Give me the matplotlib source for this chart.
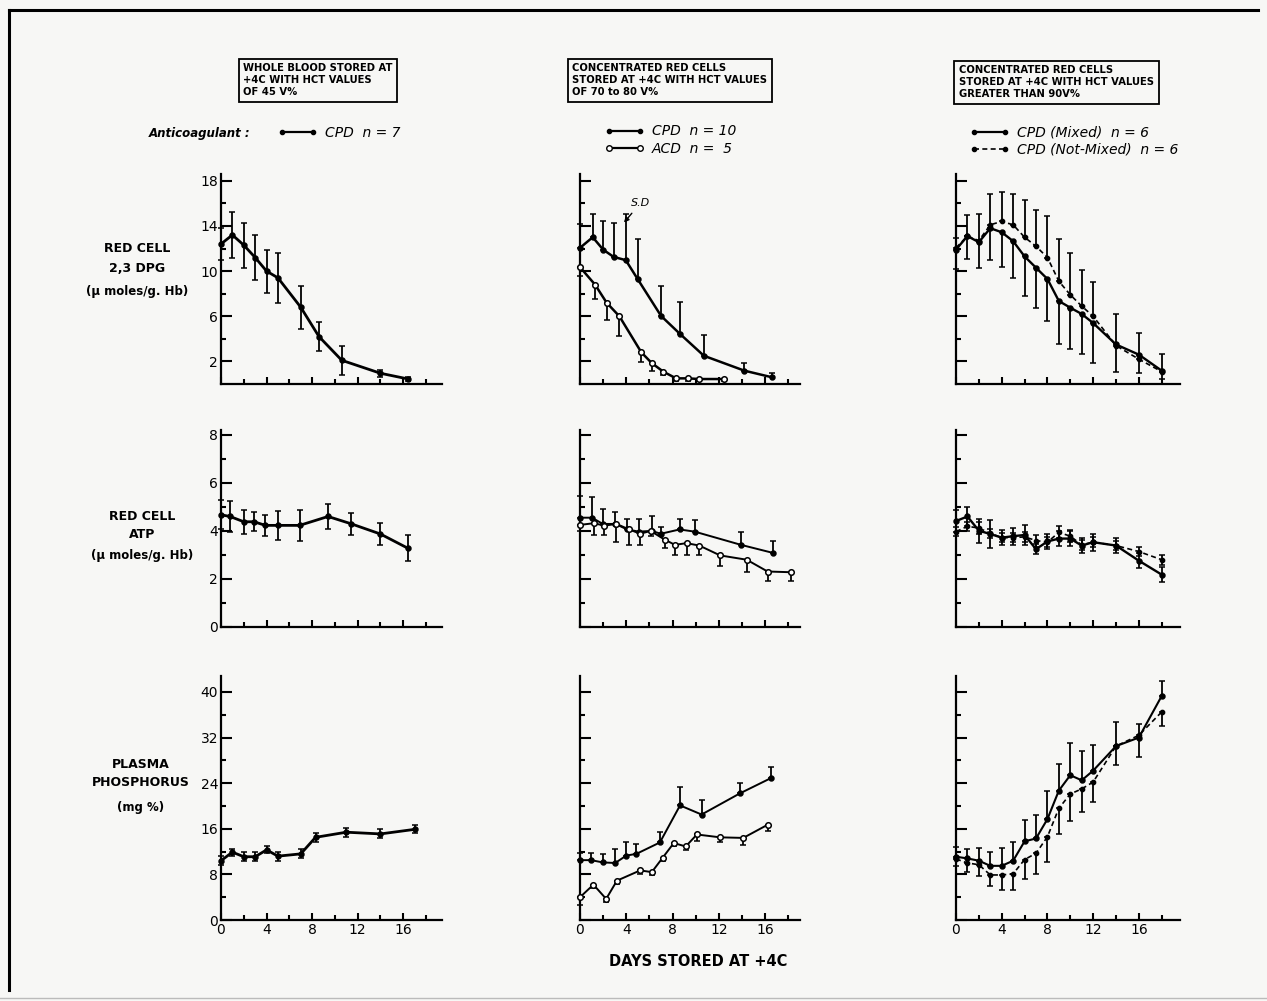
import numpy as np
import matplotlib
matplotlib.use("Agg")
import matplotlib.pyplot as plt
from matplotlib.lines import Line2D
from matplotlib.ticker import FixedLocator, NullFormatter

# ---------------- DATA ----------------
# Column 1: whole blood, CPD n=7
c1_dpg_days = [0, 1, 2, 3, 4, 5, 7, 8.6, 10.6, 14, 16.4]
c1_dpg = [12.4, 13.2, 12.3, 11.2, 10.0, 9.4, 6.8, 4.2, 2.1, 0.95, 0.45]
c1_dpg_sd = [1.4, 2.0, 2.0, 2.0, 1.9, 2.2, 1.9, 1.3, 1.3, 0.3, 0.2]

c1_atp_days = [0, 0.8, 2, 2.9, 3.9, 5, 6.9, 9.4, 11.4, 14, 16.4]
c1_atp = [4.67, 4.6, 4.38, 4.38, 4.23, 4.23, 4.23, 4.6, 4.3, 3.87, 3.28]
c1_atp_sd = [0.6, 0.65, 0.5, 0.4, 0.45, 0.6, 0.65, 0.5, 0.45, 0.45, 0.55]

c1_p_days = [0, 1, 2, 3, 4, 5, 7, 8.3, 11, 14, 17]
c1_p = [10.4, 11.9, 11.1, 11.1, 12.3, 11.2, 11.6, 14.5, 15.4, 15.1, 15.9]
c1_p_sd = [0.8, 0.6, 0.8, 0.8, 0.6, 0.8, 0.8, 0.8, 0.8, 0.8, 0.7]

# Column 2: concentrated red cells 70-80 V%, CPD n=10 / ACD n=5
c2_cpd_dpg_days = [0, 1.1, 2, 2.9, 3.95, 5, 7, 8.6, 10.7, 14.2, 16.6]
c2_cpd_dpg = [12.06, 13.0, 11.9, 11.26, 10.97, 9.26, 6.03, 4.47, 2.5, 1.18, 0.59]
c2_cpd_dpg_hi = [14.2, 15.1, 14.4, 14.26, 15.1, 12.8, 8.7, 7.26, 4.35, 1.9, 0.94]
c2_acd_dpg_days = [0, 1.3, 2.3, 3.4, 5.3, 6.2, 7.2, 8.3, 9.3, 10.3, 12.4]
c2_acd_dpg = [10.35, 8.8, 7.2, 6.0, 2.8, 1.85, 1.09, 0.5, 0.5, 0.44, 0.44]
c2_acd_dpg_lo = [9.6, 7.5, 5.7, 4.26, 1.97, 1.18, 0.8, 0.3, 0.3, 0.3, 0.3]

c2_cpd_atp_days = [0, 1.03, 1.97, 3.06, 4.03, 5.06, 6.2, 6.97, 8.6, 9.9, 13.9, 16.7]
c2_cpd_atp = [4.55, 4.55, 4.29, 4.29, 4.07, 3.97, 4.0, 3.88, 4.06, 3.97, 3.42, 3.08]
c2_cpd_atp_hi = [5.45, 5.4, 4.9, 4.77, 4.5, 4.5, 4.6, 4.17, 4.5, 4.47, 3.97, 3.6]
c2_acd_atp_days = [0, 1.2, 2.1, 3.15, 4.2, 5.2, 6.1, 7.3, 8.2, 9.2, 10.3, 12.1, 14.4, 16.2, 18.2]
c2_acd_atp = [4.25, 4.32, 4.22, 4.29, 4.07, 3.88, 4.0, 3.64, 3.42, 3.49, 3.39, 2.98, 2.8, 2.31, 2.28]
c2_acd_atp_lo = [4.0, 3.85, 3.85, 3.53, 3.42, 3.42, 3.8, 3.27, 3.0, 3.0, 3.0, 2.55, 2.31, 1.92, 1.92]

c2_cpd_p_days = [0, 0.96, 1.97, 3.04, 4, 4.87, 6.9, 8.64, 10.5, 13.8, 16.5]
c2_cpd_p = [10.5, 10.5, 10.1, 10.0, 11.3, 11.6, 13.6, 20.1, 18.5, 22.2, 24.9]
c2_cpd_p_hi = [11.7, 11.7, 11.6, 12.5, 13.6, 13.3, 15.4, 23.3, 21.1, 24.1, 26.9]
c2_acd_p_days = [0, 1.16, 2.26, 3.19, 5.2, 6.2, 7.13, 8.1, 9.13, 10.1, 12.1, 14.1, 16.2]
c2_acd_p = [4.0, 6.2, 3.7, 6.9, 8.7, 8.4, 10.9, 13.5, 12.9, 15.0, 14.5, 14.4, 16.7]
c2_acd_p_lo = [2.7, 5.7, 3.1, 6.4, 8.0, 7.9, 10.4, 12.9, 12.2, 13.9, 13.6, 13.1, 15.6]

# Column 3: concentrated red cells > 90 V%, CPD mixed / not mixed n=6
c3_days = [0, 1, 2, 3, 4, 5, 6, 7, 8, 9, 10, 11, 12, 14, 16, 18]
c3_mix_dpg = [11.9, 13.1, 12.56, 13.8, 13.44, 12.65, 11.3, 10.3, 9.3, 7.35, 6.76, 6.2, 5.4, 3.5, 2.6, 1.18]
c3_mix_dpg_lo = [10.2, 11.1, 10.3, 11.0, 10.4, 9.4, 7.8, 6.7, 5.6, 3.5, 3.1, 2.65, 1.85, 1.09, 1.0, 0.44]
c3_nmx_dpg = [12.06, 13.1, 12.7, 14.1, 14.4, 14.1, 13.0, 12.2, 11.2, 9.1, 7.9, 6.9, 6.0, 3.4, 2.2, 1.09]
c3_nmx_dpg_hi = [12.9, 15.0, 15.1, 16.8, 17.0, 16.8, 16.3, 15.4, 14.85, 12.8, 11.6, 10.1, 9.0, 6.2, 4.5, 2.65]

c3_mix_atp = [4.41, 4.6, 4.01, 3.87, 3.72, 3.78, 3.83, 3.24, 3.56, 3.68, 3.68, 3.39, 3.53, 3.39, 2.76, 2.18]
c3_mix_atp_sd = [0.45, 0.4, 0.5, 0.6, 0.3, 0.35, 0.4, 0.2, 0.3, 0.3, 0.3, 0.3, 0.35, 0.3, 0.3, 0.3]
c3_nmx_atp = [3.97, 4.19, 4.12, 3.9, 3.72, 3.72, 3.75, 3.6, 3.53, 3.94, 3.78, 3.42, 3.53, 3.39, 3.14, 2.8]
c3_nmx_atp_sd = [0.2, 0.2, 0.25, 0.2, 0.2, 0.2, 0.2, 0.25, 0.2, 0.25, 0.25, 0.2, 0.2, 0.2, 0.2, 0.2]

c3_mix_p = [11.1, 10.8, 10.4, 9.5, 9.5, 10.4, 13.8, 14.3, 17.7, 22.7, 25.4, 24.5, 26.2, 30.5, 32.0, 39.3]
c3_mix_p_hi = [12.8, 12.4, 12.6, 11.9, 12.6, 13.6, 17.6, 18.5, 22.6, 27.4, 31.0, 29.7, 30.7, 34.8, 34.4, 41.9]
c3_nmx_p = [10.7, 10.0, 9.7, 7.9, 7.9, 8.1, 10.6, 11.7, 14.6, 19.6, 22.1, 23.0, 24.2, 30.5, 32.4, 36.5]
c3_nmx_p_lo = [9.5, 8.4, 7.8, 6.0, 5.3, 5.3, 7.2, 8.1, 10.2, 15.1, 17.4, 19.0, 20.7, 27.2, 28.6, 34.1]

headers = ["WHOLE BLOOD STORED AT\n+4C WITH HCT VALUES\nOF 45 V%",
           "CONCENTRATED RED CELLS\nSTORED AT +4C WITH HCT VALUES\nOF 70 to 80 V%",
           "CONCENTRATED RED CELLS\nSTORED AT +4C WITH HCT VALUES\nGREATER THAN 90V%"]
row_labels = [["RED CELL", "2,3 DPG", "(\u00b5 moles/g. Hb)"],
              ["RED CELL", "ATP", "(\u00b5 moles/g. Hb)"],
              ["PLASMA", "PHOSPHORUS", "(mg %)"]]
x_ticklabels = ["0", "4", "8", "12", "16"]
xlabel = "DAYS STORED AT +4C"

# ---------------- LAYOUT ----------------
W, H = 1267, 1001
fig = plt.figure(figsize=(W / 100, H / 100), dpi=100)
BG = "#f7f7f5"
fig.patch.set_facecolor(BG)
plt.rcParams['font.family'] = ['DejaVu Sans']

col_px = [(221, 442, 19.4), (580, 800, 19.0), (956, 1180, 19.6)]
row_px = [(174, 384, 18.6), (430, 627, 8.2), (676, 920, 42.8)]
row_major = [[2, 6, 10, 14, 18], [0, 2, 4, 6, 8], [0, 8, 16, 24, 32, 40]]
row_minor = [[4, 8, 12, 16], [1, 3, 5, 7], [4, 12, 20, 28, 36]]


def make_ax(ci, ri):
    x0, x1, xmax = col_px[ci]
    y0, y1, ymax = row_px[ri]
    ax = fig.add_axes([x0 / W, 1 - y1 / H, (x1 - x0) / W, (y1 - y0) / H])
    ax.set_facecolor("none")
    ax.set_xlim(0, xmax)
    ax.set_ylim(0, ymax)
    for s in ("top", "right"):
        ax.spines[s].set_visible(False)
    for s in ("left", "bottom"):
        ax.spines[s].set_linewidth(1.6)
    ax.xaxis.set_major_locator(FixedLocator([0, 4, 8, 12, 16]))
    ax.xaxis.set_minor_locator(FixedLocator([2, 6, 10, 14, 18]))
    ax.yaxis.set_major_locator(FixedLocator(row_major[ri]))
    ax.yaxis.set_minor_locator(FixedLocator(row_minor[ri]))
    ax.tick_params(axis="x", which="major", direction="in", length=5, width=1.5)
    ax.tick_params(axis="x", which="minor", direction="in", length=3.5, width=1.5)
    ax.tick_params(axis="y", which="major", direction="in", length=8, width=1.5)
    ax.tick_params(axis="y", which="minor", direction="in", length=3.5, width=1.5)
    ax.tick_params(labelsize=10, pad=2)
    if ri == 2:
        ax.set_xticklabels(x_ticklabels)
    else:
        ax.xaxis.set_major_formatter(NullFormatter())
    if ci != 0:
        ax.yaxis.set_major_formatter(NullFormatter())
    return ax


def eb(ax, x, y, lo, hi, ls="-", mfc="black", lw=1.4, ms=3.5):
    y = np.asarray(y)
    cont = ax.errorbar(x, y, yerr=[lo, hi], fmt="o", ls=ls, color="black", lw=lw,
                       ms=ms, mfc=mfc, mec="black", mew=1.1, elinewidth=1.3,
                       capsize=2.0, capthick=1.3, zorder=3)
    for art in cont.get_children():
        art.set_clip_on(False)


axes = [[make_ax(c, r) for c in range(3)] for r in range(3)]

# Column 1
a = axes[0][0]
eb(a, c1_dpg_days, c1_dpg, c1_dpg_sd, c1_dpg_sd, lw=2.0)
a = axes[1][0]
eb(a, c1_atp_days, c1_atp, c1_atp_sd, c1_atp_sd, lw=2.0)
a = axes[2][0]
eb(a, c1_p_days, c1_p, c1_p_sd, c1_p_sd, lw=2.0)

# Column 2
def one_sided_hi(y, hi):
    y = np.asarray(y); hi = np.asarray(hi)
    return np.zeros_like(y), hi - y

def one_sided_lo(y, lo):
    y = np.asarray(y); lo = np.asarray(lo)
    return y - lo, np.zeros_like(y)

a = axes[0][1]
eb(a, c2_cpd_dpg_days, c2_cpd_dpg, *one_sided_hi(c2_cpd_dpg, c2_cpd_dpg_hi), lw=1.8)
eb(a, c2_acd_dpg_days, c2_acd_dpg, *one_sided_lo(c2_acd_dpg, c2_acd_dpg_lo), lw=1.8, mfc="white", ms=4)
a.annotate("S.D", xy=(3.8, 14.3), xytext=(5.2, 16.0), fontsize=8, style="italic",
           ha="center", va="center",
           arrowprops=dict(arrowstyle="-|>", color="black", lw=1.0, mutation_scale=7,
                           shrinkA=2, shrinkB=0))
a = axes[1][1]
eb(a, c2_cpd_atp_days, c2_cpd_atp, *one_sided_hi(c2_cpd_atp, c2_cpd_atp_hi), lw=1.4)
eb(a, c2_acd_atp_days, c2_acd_atp, *one_sided_lo(c2_acd_atp, c2_acd_atp_lo), lw=1.4, mfc="white", ms=4)
a = axes[2][1]
eb(a, c2_cpd_p_days, c2_cpd_p, *one_sided_hi(c2_cpd_p, c2_cpd_p_hi), lw=1.4)
eb(a, c2_acd_p_days, c2_acd_p, *one_sided_lo(c2_acd_p, c2_acd_p_lo), lw=1.4, mfc="white", ms=4)

# Column 3
DASH = (0, (3, 2))
a = axes[0][2]
eb(a, c3_days, c3_mix_dpg, *one_sided_lo(c3_mix_dpg, c3_mix_dpg_lo), lw=1.7)
eb(a, c3_days, c3_nmx_dpg, *one_sided_hi(c3_nmx_dpg, c3_nmx_dpg_hi), ls=DASH, lw=1.2, ms=3)
a = axes[1][2]
eb(a, c3_days, c3_mix_atp, c3_mix_atp_sd, c3_mix_atp_sd, lw=1.7)
eb(a, c3_days, c3_nmx_atp, c3_nmx_atp_sd, c3_nmx_atp_sd, ls=DASH, lw=1.2, ms=3)
a = axes[2][2]
eb(a, c3_days, c3_mix_p, *one_sided_hi(c3_mix_p, c3_mix_p_hi), lw=1.5)
eb(a, c3_days, c3_nmx_p, *one_sided_lo(c3_nmx_p, c3_nmx_p_lo), ls=DASH, lw=1.2, ms=3)

# ---------------- TEXT ----------------
def fx(px):
    return px / W

def fy(py):
    return 1 - py / H

header_pos = [(243, 80), (572, 80), (959, 82)]
for (hx, hy), txt in zip(header_pos, headers):
    fig.text(fx(hx), fy(hy), txt, fontsize=7.2, fontweight="bold", ha="left", va="center",
             linespacing=1.25,
             bbox=dict(boxstyle="square,pad=0.45", fc="none", ec="black", lw=1.3))

row_text_pos = [[(137, 249), (137, 269), (137, 291)],
                [(142, 517), (142, 534), (142, 556)],
                [(141, 764), (141, 782), (141, 807)]]
for lines, poss in zip(row_labels, row_text_pos):
    for t, (px, py) in zip(lines, poss):
        fs = 9 if not t.startswith("(") else 8.5
        fig.text(fx(px), fy(py), t, fontsize=fs, fontweight="bold", ha="center", va="center")

fig.text(fx(698), fy(961), xlabel, fontsize=10.5, fontweight="bold", ha="center", va="center")

# Legends
fig.text(fx(250), fy(133), "Anticoagulant :", fontsize=8.5, fontweight="bold",
         style="italic", ha="right", va="center")

def legend(entries, x_px, y_px):
    handles = [Line2D([0], [0], color="black", lw=lw, ls=ls, marker="o", ms=ms,
                      mfc=mfc, mec="black") for (_, ls, lw, mfc, ms) in entries]
    labels = [e[0] for e in entries]
    fig.legend(handles, labels, loc="center left", bbox_to_anchor=(fx(x_px), fy(y_px)),
               frameon=False, numpoints=2, handlelength=2.8, handletextpad=0.6,
               borderpad=0, borderaxespad=0, labelspacing=0.22,
               prop=dict(size=10, style="italic"))

legend([("CPD  n = 7", "-", 1.6, "black", 3)], 278, 133)
legend([("CPD  n = 10", "-", 1.6, "black", 3), ("ACD  n =  5", "-", 1.6, "white", 4)], 605, 140)
legend([("CPD (Mixed)  n = 6", "-", 1.6, "black", 3),
        ("CPD (Not-Mixed)  n = 6", DASH, 1.2, "black", 3)], 970, 141)

# Outer frame
fig.add_artist(Line2D([fx(9), fx(1258)], [fy(10), fy(10)], color="black", lw=2.2))
fig.add_artist(Line2D([fx(9), fx(9)], [fy(10), fy(990)], color="black", lw=2.2))
fig.add_artist(Line2D([fx(0), fx(1267)], [fy(998), fy(998)], color="#bbbbbb", lw=1.0))

fig.savefig("out.png", dpi=100, facecolor=BG)
